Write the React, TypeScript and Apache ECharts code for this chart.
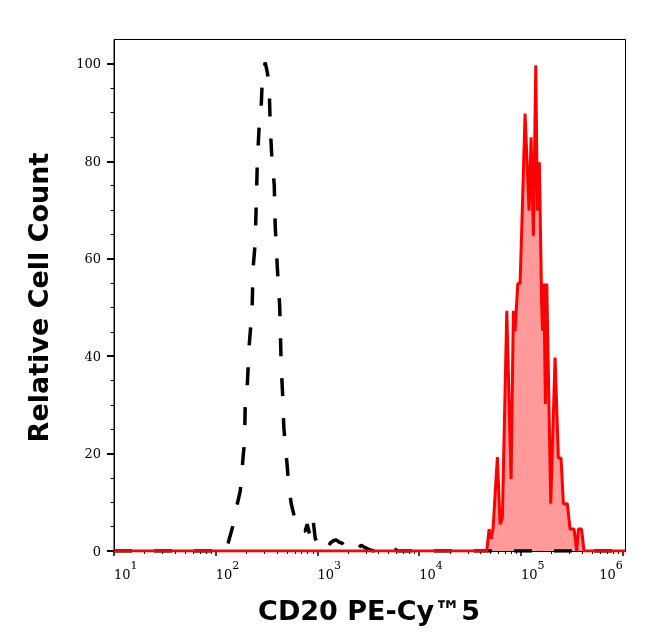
import { useEffect, useRef } from 'react';
import * as echarts from 'echarts';

// axis range and ticks
const xMin = 10;
const xMax = 1065000;
const xMajorTicks = [10, 100, 1000, 10000, 100000, 1000000];
const xTickExponents = ['1', '2', '3', '4', '5', '6'];
const xMinorTicks = [10, 100, 1000, 10000, 100000].flatMap((d) =>
    [2, 3, 4, 5, 6, 7, 8, 9].map((m) => m * d)
);
const yMajorTicks = [0, 20, 40, 60, 80, 100];
const yMinorTicks = [5, 10, 15, 25, 30, 35, 45, 50, 55, 65, 70, 75, 85, 90, 95];

// unstained control (black dashed)
const controlIntensity = [
    10, 127, 133, 149, 163, 174, 178, 182, 186, 191, 193, 195, 204, 209, 213, 223, 228, 231, 234,
    244, 250, 256, 262, 268, 280, 286, 300, 306, 321, 335, 339, 343, 351, 359, 367, 376, 380, 384,
    393, 402, 416, 425, 430, 435, 440, 450, 460, 466, 482, 504, 521, 552, 590, 632, 646, 757, 792,
    848, 887, 908, 949, 1016, 1112, 1246, 1333, 1427, 1527, 1634, 1748, 1914, 2193, 2346, 2511,
    2688, 2875, 3148, 3526, 4323, 4624, 4950, 5297, 5669, 6205, 1065000,
];
const controlCount = [
    0, 0, 1.8, 5.5, 9.7, 12.3, 14.4, 17, 19.5, 22, 25.7, 30.2, 33.9, 38.4, 42.1, 47.3, 50.4, 54.9, 58.6,
    63.1, 71.3, 79.5, 83.7, 87.8, 91.5, 96, 99.1, 100.3, 98.3, 95.6, 91.5, 87.4, 83.2, 79.1, 77.7, 75, 70.9, 66.8,
    62.7, 58.6, 53.4, 50.4, 46.2, 42.1, 38, 33.9, 29.8, 25.7, 21.6, 17.5, 13.4, 9.7, 7.2, 5.8, 4.1, 4.1, 5.5,
    2.9, 5.8, 6.2, 2.7, 0.8, 0.2, 0.2, 1.6, 2.1, 2.3, 1.8, 1.6, 0.2, 0.2, 1, 0.6,
    1.2, 0.8, 0.4, 0, 0.4, 0, 0.4, 0, 0.4, 0, 0,
];

// CD20 PE-Cy5 stained (red filled)
const stainedIntensity = [
    10, 46130, 48600, 50850, 53200, 58640, 62320, 65650, 72540, 79930, 84220, 87530, 93030, 97990,
    103700, 109700, 120100, 125700, 132400, 139800, 144900, 151600, 159400, 163000, 167900, 173700,
    179200, 196200, 216300, 233000, 247600, 260900, 285600, 303600, 332300, 353300, 366400, 393800,
    416700, 1065000,
];
const stainedCount = [
    0, 0, 4.5, 2.5, 4.7, 19.3, 5.5, 6.8, 49.3, 14.8, 49.3, 45.2, 54.9, 54.9,
    71.9, 89.8, 69.9, 84.9, 64.7, 99.7, 69.9, 79.8, 51.4, 45.2, 54.9, 30.2,
    54.9, 9.7, 39.7, 19.1, 19.1, 9.7, 9.7, 4.5, 4.5, 0, 4.5, 4.5,
    0, 0,
];

const serif = '"DejaVu Serif", serif';

export default function App() {
    const chartRef = useRef<HTMLDivElement>(null);

    useEffect(() => {
        if (!chartRef.current) return;
        document.body.style.margin = '0';
        const chart = echarts.init(chartRef.current, undefined, { renderer: 'svg' });

        const control = controlIntensity.map((v, i) => [v, controlCount[i]]);
        const stained = stainedIntensity.map((v, i) => [v, stainedCount[i]]);

        const option = {
            animation: false,
            grid: {
                left: 114,
                right: 20.5,
                top: 39.5,
                bottom: 90,
                show: true,
                borderColor: '#000',
                borderWidth: 1,
            },
            xAxis: [
                {
                    type: 'log',
                    logBase: 10,
                    min: xMin,
                    max: xMax,
                    position: 'bottom',
                    axisLine: { onZero: false, lineStyle: { color: '#000', width: 1 } },
                    axisTick: { customValues: xMajorTicks, length: 5, lineStyle: { color: '#000', width: 1.5 } },
                    axisLabel: {
                        customValues: xMajorTicks,
                        margin: 9,
                        align: 'left',
                        alignMinLabel: 'left',
                        alignMaxLabel: 'right',
                        formatter: (v: number) => {
                            const i = xMajorTicks.indexOf(Math.round(v));
                            const e = i >= 0 ? xTickExponents[i] : String(Math.round(Math.log10(v)));
                            return `{b|10}{s|${e}}`;
                        },
                        rich: {
                            b: { fontFamily: serif, fontSize: 13, color: '#000', lineHeight: 21, verticalAlign: 'bottom' },
                            s: { fontFamily: serif, fontSize: 11, color: '#000', verticalAlign: 'top' },
                        },
                    },
                    splitLine: { show: false },
                },
                {
                    type: 'log',
                    logBase: 10,
                    min: xMin,
                    max: xMax,
                    position: 'bottom',
                    axisLine: { show: false, onZero: false },
                    axisTick: { customValues: xMinorTicks, length: 3, lineStyle: { color: '#000', width: 1 } },
                    axisLabel: { show: false },
                    splitLine: { show: false },
                },
            ],
            yAxis: [
                {
                    type: 'value',
                    min: 0,
                    max: 105,
                    interval: 20,
                    position: 'left',
                    axisLine: { show: true, onZero: false, lineStyle: { color: '#000', width: 1 } },
                    axisTick: { show: true, customValues: yMajorTicks, length: 7, lineStyle: { color: '#000', width: 2 } },
                    axisLabel: {
                        customValues: yMajorTicks,
                        margin: 13,
                        fontFamily: serif,
                        fontSize: 13,
                        color: '#000',
                    },
                    splitLine: { show: false },
                },
                {
                    type: 'value',
                    min: 0,
                    max: 105,
                    position: 'left',
                    axisLine: { show: false, onZero: false },
                    axisTick: { show: true, customValues: yMinorTicks, length: 3.5, lineStyle: { color: '#000', width: 1 } },
                    axisLabel: { show: false },
                    splitLine: { show: false },
                },
            ],
            graphic: [
                {
                    type: 'text',
                    x: 369,
                    y: 610.5,
                    style: {
                        text: 'CD20 PE-Cy™5',
                        font: 'bold 27px "DejaVu Sans"',
                        fill: '#000',
                        align: 'center',
                        verticalAlign: 'middle',
                        textAlign: 'center',
                        textVerticalAlign: 'middle',
                    },
                },
                {
                    type: 'text',
                    x: 38.3,
                    y: 297.5,
                    rotation: Math.PI / 2,
                    style: {
                        text: 'Relative Cell Count',
                        font: 'bold 27px "DejaVu Sans"',
                        fill: '#000',
                        align: 'center',
                        verticalAlign: 'middle',
                        textAlign: 'center',
                        textVerticalAlign: 'middle',
                    },
                },
            ],
            series: [
                {
                    name: 'Unstained',
                    type: 'line',
                    xAxisIndex: 0,
                    yAxisIndex: 0,
                    data: control,
                    symbol: 'none',
                    lineStyle: { color: '#000', width: 3.5, type: [18, 22] },
                },
                {
                    name: 'CD20 PE-Cy5',
                    type: 'line',
                    xAxisIndex: 0,
                    yAxisIndex: 0,
                    data: stained,
                    symbol: 'none',
                    lineStyle: { color: '#ff0000', width: 3 },
                    areaStyle: { color: '#ff9a9a', opacity: 1 },
                },
            ],
        };

        chart.setOption(option);

        return () => {
            chart.dispose();
        };
    }, []);

    return (
        <div
            ref={chartRef}
            style={{ position: 'fixed', left: 0, top: 0, width: '646px', height: '641px' }}
        />
    );
}
